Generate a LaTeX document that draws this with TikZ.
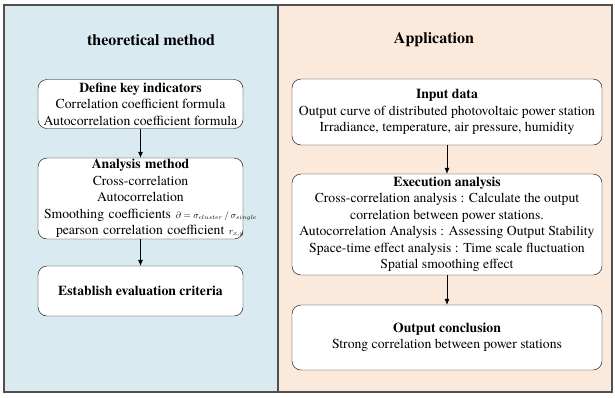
\documentclass[tikz,border=0pt]{standalone}
\usepackage{fontspec}
\setmainfont{texgyretermes}[Extension=.otf, UprightFont=*-regular, BoldFont=*-bold, ItalicFont=*-italic, BoldItalicFont=*-bolditalic]
\usetikzlibrary{arrows.meta}
\definecolor{leftbg}{RGB}{218,234,241}
\definecolor{rightbg}{RGB}{251,233,220}
\definecolor{framegray}{RGB}{80,80,80}
\newcommand{\smallmath}[1]{{\fontsize{9}{12}\selectfont$#1$}}
\tikzset{
    stagebox/.style={draw, rounded corners=9pt, fill=white, align=center,
        inner sep=0pt, font=\fontsize{13.7}{16.5}\selectfont},
    heading/.style={font=\fontsize{16}{18}\selectfont\bfseries},
    flow/.style={-{Latex[length=6pt,width=5pt]}, semithick}
}
\begin{document}
\begin{tikzpicture}[x=1pt, y=-1pt]
    \useasboundingbox (0,0) rectangle (615,397);

    % Panels
    \fill[leftbg] (4,5) rectangle (278,392);
    \fill[rightbg] (278,5) rectangle (612,392);
    \draw[framegray, line width=1.1pt] (4,5) rectangle (612,392);
    \draw[framegray, line width=1.1pt] (278,5) -- (278,392);

    % Headings
    \node[heading] (theory) at (151,40) {theoretical method};
    \node[heading] (appl) at (434,40) {Application};

    % Theoretical method
    \node[stagebox, minimum width=205pt, minimum height=49pt] (key) at (140.5,104)
        {\textbf{Define key indicators}\\Correlation coefficient formula\\Autocorrelation coefficient formula};
    \node[stagebox, text width=205pt, minimum height=81pt] (method) at (140.5,198.5)
        {\textbf{Analysis method}\\Cross-correlation\\Autocorrelation\\
         \mbox{\hspace*{6pt}Smoothing coefficients \smallmath{\partial=\sigma_{cluster}\,/\,\sigma_{single}}}\\
         \mbox{\hspace*{18pt}pearson correlation coefficient \smallmath{r_{x,y}}}};
    \node[stagebox, minimum width=205pt, minimum height=50pt] (criteria) at (140.5,291)
        {\textbf{Establish evaluation criteria}};

    % Application
    \node[stagebox, minimum width=310pt, minimum height=66pt] (input) at (447,112)
        {\textbf{Input data}\\Output curve of distributed photovoltaic power station\\Irradiance, temperature, air pressure, humidity};
    \node[stagebox, minimum width=310pt, minimum height=101pt] (exec) at (447,224.5)
        {\textbf{Execution analysis}\\Cross-correlation analysis : Calculate the output\\correlation between power stations.\\
         Autocorrelation Analysis : Assessing Output Stability\\Space-time effect analysis : Time scale fluctuation\\Spatial smoothing effect};
    \node[stagebox, minimum width=310pt, minimum height=65pt] (output) at (447,337.5)
        {\textbf{Output conclusion}\\Strong correlation between power stations};

    % Arrows
    \draw[flow] (key) -- (method);
    \draw[flow] (method) -- (criteria);
    \draw[flow] (input) -- (exec);
    \draw[flow] (exec) -- (output);
\end{tikzpicture}
\end{document}
